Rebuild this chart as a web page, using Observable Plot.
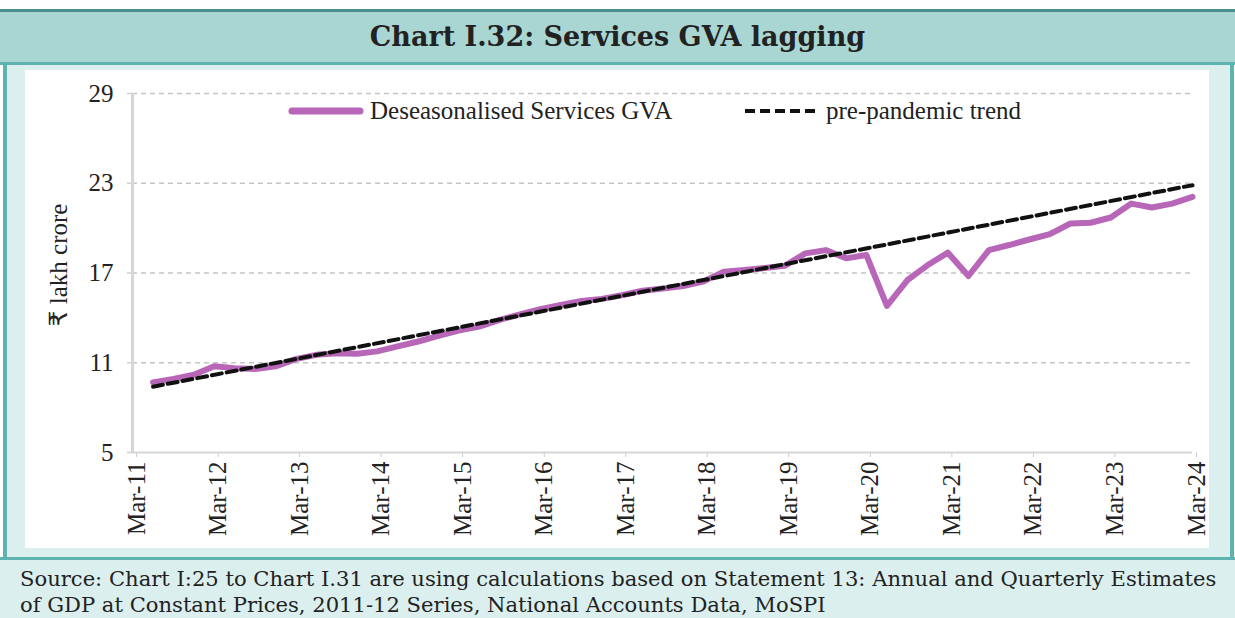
<!DOCTYPE html>
<html>
<head>
<meta charset="utf-8">
<script src="https://cdn.jsdelivr.net/npm/d3@7"></script>
<script src="https://cdn.jsdelivr.net/npm/@observablehq/plot@0.6"></script>
<style>
  html, body { margin: 0; padding: 0; background: #ffffff; }
  #page { position: relative; width: 1235px; height: 618px; overflow: hidden; background: #ffffff; }
  #frame { position: absolute; left: 3px; top: 9px; width: 1223px; height: 620px;
           border-left: 4px solid #5fb3ae; border-right: 4px solid #5fb3ae; background: #dcefef; }
  #titleband { position: absolute; left: 0; top: 9px; width: 1235px; height: 50px;
               background: #a9d6d3; border-top: 3px solid #4a8e8a; border-bottom: 3px solid #5fb3ae; }
  #title { position: absolute; left: 0; top: 0; width: 1235px; height: 50px; line-height: 50px;
           text-align: center; font-family: "DejaVu Serif", serif; font-weight: bold; font-size: 27px; color: #222; }
  #panel { position: absolute; left: 25px; top: 70px; width: 1184px; height: 478px; background: #ffffff; }
  #sourcebox { position: absolute; left: 0; top: 557px; width: 1235px; height: 61px; background: #dcefef;
               border-top: 3px solid #5fb3ae; }
  #source { position: absolute; left: 20px; top: 6px; width: 1210px; font-family: "DejaVu Serif", serif;
            font-size: 21.1px; line-height: 26px; color: #222; white-space: nowrap; }
  #chart { position: absolute; left: 0; top: 70px; }
  #ylabel { position: absolute; left: 58px; top: 265px; transform: translate(-50%, -50%) rotate(-90deg);
            font-family: "Liberation Serif", "DejaVu Sans", serif; font-size: 25px; color: #222; white-space: nowrap; }
  .legtext { position: absolute; font-family: "Liberation Serif", serif; font-size: 25px; color: #222;
             white-space: nowrap; line-height: 25px; }
</style>
</head>
<body>
<div id="page">
  <div id="frame"></div>
  <div id="titleband"><div id="title"></div></div>
  <div id="panel"></div>
  <div id="chart"></div>
  <div id="ylabel"></div>
  <svg id="legsvg" style="position:absolute;left:0;top:0;" width="1235" height="140"></svg>
  <div class="legtext" id="leg1" style="left:370px; top:98px;"></div>
  <div class="legtext" id="leg2" style="left:826px; top:98px;"></div>
  <div id="sourcebox"><div id="source"></div></div>
</div>
<script>
// ---- Data ----
const titleText = "Chart I.32: Services GVA lagging";
const yAxisLabel = "₹ lakh crore";
const seriesNames = ["Deseasonalised Services GVA", "pre-pandemic trend"];
const sourceLines = [
  "Source: Chart I:25 to Chart I.31 are using calculations based on Statement 13: Annual and Quarterly Estimates",
  "of GDP at Constant Prices, 2011-12 Series, National Accounts Data, MoSPI"
];

const quarters = [
  "Jun-11","Sep-11","Dec-11",
  "Mar-12","Jun-12","Sep-12","Dec-12",
  "Mar-13","Jun-13","Sep-13","Dec-13",
  "Mar-14","Jun-14","Sep-14","Dec-14",
  "Mar-15","Jun-15","Sep-15","Dec-15",
  "Mar-16","Jun-16","Sep-16","Dec-16",
  "Mar-17","Jun-17","Sep-17","Dec-17",
  "Mar-18","Jun-18","Sep-18","Dec-18",
  "Mar-19","Jun-19","Sep-19","Dec-19",
  "Mar-20","Jun-20","Sep-20","Dec-20",
  "Mar-21","Jun-21","Sep-21","Dec-21",
  "Mar-22","Jun-22","Sep-22","Dec-22",
  "Mar-23","Jun-23","Sep-23","Dec-23",
  "Mar-24"
];
const gvaValues = [
  9.69, 9.91, 10.20,
  10.76, 10.64, 10.58, 10.76,
  11.24, 11.53, 11.64, 11.60,
  11.76, 12.09, 12.42, 12.80,
  13.15, 13.42, 13.87, 14.24,
  14.58, 14.87, 15.13, 15.27,
  15.51, 15.82, 15.96, 16.13,
  16.42, 17.09, 17.20, 17.33,
  17.48, 18.31, 18.53, 17.98,
  18.20, 14.80, 16.53, 17.53,
  18.36, 16.80, 18.53, 18.87,
  19.24, 19.60, 20.31, 20.36,
  20.71, 21.64, 21.38, 21.64,
  22.09
];
const trendQuarters = ["Jun-11", "Mar-24"];
const trendValues = [9.40, 22.87];

const xTickLabels = ["Mar-11","Mar-12","Mar-13","Mar-14","Mar-15","Mar-16","Mar-17",
                     "Mar-18","Mar-19","Mar-20","Mar-21","Mar-22","Mar-23","Mar-24"];
const yTicks = [5, 11, 17, 23, 29];

// ---- Build ----
const parse = d3.utcParse("%b-%y");
const fmt = d3.utcFormat("%b-%y");
const gva = quarters.map((q, i) => ({date: parse(q), value: gvaValues[i]}));
const trend = trendQuarters.map((q, i) => ({date: parse(q), value: trendValues[i]}));
const xTicks = xTickLabels.map(parse);

const purple = "#b867b8";

const chart = Plot.plot({
  width: 1235,
  height: 480,
  marginLeft: 132,
  marginRight: 43,
  marginTop: 23,
  marginBottom: 98,
  style: {background: "transparent", fontFamily: "Liberation Serif, serif", fontSize: "25px", color: "#222"},
  x: {type: "utc", domain: [xTicks[0], xTicks[xTicks.length - 1]]},
  y: {domain: [5, 29]},
  marks: [
    Plot.gridY(yTicks.filter(v => v > 5), {stroke: "#c4c4c4", strokeOpacity: 1, strokeWidth: 1.5, strokeDasharray: "5,4"}),
    Plot.axisY({ticks: yTicks, tickSize: 5, tickPadding: 14, stroke: "#cfcfcf", strokeWidth: 1.5, label: null, fill: "#222"}),
    Plot.axisX({ticks: xTicks, tickFormat: fmt, tickRotate: -90, tickSize: 5, tickPadding: 4, stroke: "#cfcfcf", label: null, fill: "#222", dx: 4}),
    Plot.ruleX([xTicks[0]], {stroke: "#d6d6d6", strokeWidth: 3}),
    Plot.ruleY([5], {stroke: "#d6d6d6", strokeWidth: 2}),
    Plot.line(gva, {x: "date", y: "value", stroke: purple, strokeWidth: 6, strokeLinejoin: "round", strokeLinecap: "round"}),
    Plot.line(trend, {x: "date", y: "value", stroke: "#111", strokeWidth: 4, strokeDasharray: "10,5"})
  ]
});
document.getElementById("chart").appendChild(chart);

document.getElementById("title").textContent = titleText;
document.getElementById("ylabel").textContent = yAxisLabel;
document.getElementById("leg1").textContent = seriesNames[0];
document.getElementById("leg2").textContent = seriesNames[1];
document.getElementById("source").innerHTML = sourceLines.map(s => `<div>${s}</div>`).join("");

const legsvg = d3.select("#legsvg");
legsvg.append("line").attr("x1", 292).attr("x2", 360).attr("y1", 111).attr("y2", 111)
  .attr("stroke", purple).attr("stroke-width", 7).attr("stroke-linecap", "round");
legsvg.append("line").attr("x1", 745).attr("x2", 820).attr("y1", 111).attr("y2", 111)
  .attr("stroke", "#111").attr("stroke-width", 4).attr("stroke-dasharray", "10,5");
</script>
</body>
</html>
